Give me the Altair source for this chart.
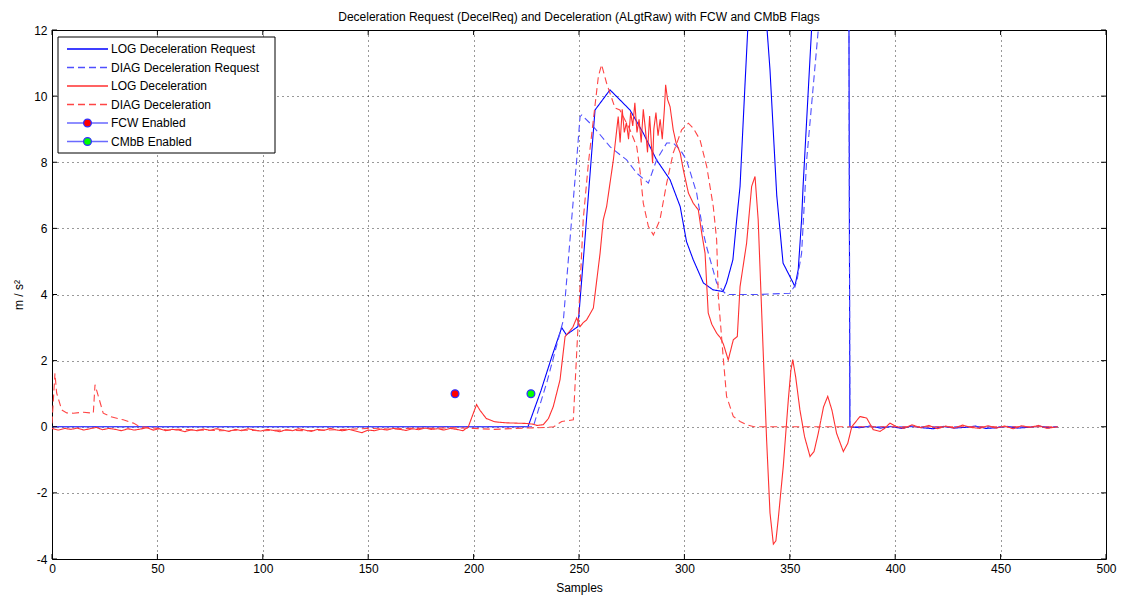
import altair as alt
import pandas as pd

# ---------------- data ----------------
log_req_x = [0, 50, 100, 150, 200, 225.8, 232, 237, 241.8, 244, 249.5, 252.8, 257.6, 264.7, 274.2,
             280.5, 286.8, 293.2, 298, 301, 304.2, 309, 313.6, 318.3, 320, 323, 324.8, 326.4, 328.7,
             330.2, 333, 336, 339, 340.6, 343.8, 346.8, 351.6, 352.4, 354, 355.6, 356.3, 360.4, 365,
             372, 378, 378.5, 383, 388, 393, 398, 403, 408, 413, 418, 423, 428, 433, 438, 443, 448,
             453, 458, 463, 468, 473, 477]
log_req_y = [0, 0, 0, 0, 0, 0, 1.1, 2.1, 3.0, 2.78, 3.03, 5.65, 9.58, 10.19, 9.58,
             8.88, 8.07, 7.47, 6.66, 5.6, 5.05, 4.35, 4.14, 4.09, 4.35, 5.05, 6.26, 7.27, 10.29,
             12.2, 13.5, 13.8, 12.2, 10.8, 7.0, 4.95, 4.35, 4.24, 4.75, 6.26, 7.27, 12.1, 14,
             14.5, 14, 0, -0.03, 0.02, -0.04, 0.01, -0.05, 0.02, -0.03, -0.06, 0.01, -0.04, -0.02,
             0.02, -0.05, -0.03, 0.01, -0.04, -0.02, 0.02, -0.03, 0.0]

diag_req_x = [0, 100, 200, 228.3, 235, 242.6, 246.5, 248.9, 250.5, 251.3, 256.8, 264.7, 272.6,
              277.4, 282.9, 286.8, 291.6, 294.7, 298, 301, 305.8, 309, 310.5, 315.3, 318.5, 320,
              335, 350.1, 353.2, 355.6, 358, 363.5, 370, 378, 378.5, 420, 477]
diag_req_y = [0, 0, 0, 0, 1.4, 3.23, 6.26, 8.07, 9.38, 9.43, 9.08, 8.47, 8.07,
              7.67, 7.37, 8.07, 8.58, 8.58, 8.38, 8.07, 7.07, 5.86, 5.45, 4.35, 4.09, 4.0,
              4.0, 4.04, 4.35, 5.25, 8.07, 12.0, 14, 14, 0, 0, 0]

log_dec_x = [0, 3, 6, 9, 12, 15, 18, 21, 24, 27, 30, 33, 36, 39, 42, 45, 48, 51, 54, 57, 60, 63,
             66, 69, 72, 75, 78, 81, 84, 87, 90, 93, 96, 99, 102, 105, 108, 111, 114, 117, 120, 123,
             126, 129, 132, 135, 138, 141, 144, 147, 150, 153, 156, 159, 162, 165, 168, 171, 174,
             177, 180, 183, 186, 189, 192, 195, 197.5, 201.4, 203, 206, 210, 215, 220, 225, 228,
             230, 233, 235.5, 237.8, 241, 243.4, 245, 247, 248.9, 250.5, 252, 253.6, 256.8, 260,
             261.5, 263.1, 266.3, 268.6, 269.5, 270.5, 271.5, 272.5, 273.5, 274.5, 275.5, 276.5,
             277.5, 278.5, 279.5, 280.5, 281.5, 282.5, 283.5, 284.9, 285.5, 286.5, 287.5, 288.5,
             289.5, 290.5, 291.1, 292, 293.2, 294.7, 296, 298, 299.5, 301.9, 304.2, 306.6, 308.2,
             309.8, 311.3, 313, 315.3, 317, 318.5, 320.8, 323.2, 325.1, 326.4, 329.5, 331.9, 333.5,
             335, 337.4, 339, 340.6, 342.2, 343.4, 344.5, 346.9, 348.2, 349.3, 350.5, 351.4, 352.8,
             354.8, 357, 359.6, 361.5, 363.5, 366, 368, 370, 372.2, 375.4, 377.5, 379.4, 383.3,
             386.5, 389.6, 392.8, 395, 397.5, 400, 404, 408, 412, 416,
             420, 424, 428, 432, 436, 440, 444, 448, 452, 456, 460, 464, 468, 472, 477]
log_dec_y = [-0.05, -0.1, -0.05, -0.08, -0.04, -0.1, -0.06, -0.02, -0.09, -0.05, -0.08, -0.12,
             -0.06, -0.1, -0.07, -0.03, -0.1, -0.06, -0.12, -0.08, -0.1, -0.15, -0.09, -0.12, -0.07,
             -0.11, -0.06, -0.1, -0.14, -0.08, -0.12, -0.06, -0.1, -0.13, -0.08, -0.11, -0.15,
             -0.09, -0.12, -0.06, -0.1, -0.14, -0.08, -0.11, -0.05, -0.1, -0.12, -0.08, -0.13,
             -0.18, -0.1, -0.12, -0.07, -0.1, -0.05, -0.08, -0.11, -0.06, -0.09, -0.04, -0.08,
             -0.06, -0.1, -0.05, -0.08, -0.12, 0.0, 0.67, 0.5, 0.25, 0.15, 0.12, 0.11, 0.1, 0.08,
             0.04, 0.06, 0.25, 0.61, 1.42, 2.73, 2.85, 3.0, 3.29, 3.03, 3.15, 3.23, 3.59, 5.25,
             6.26, 6.66, 8.07, 9.38, 8.6, 9.6, 8.9, 9.2, 8.7, 9.5, 9.1, 9.8,
             8.9, 9.3, 8.6, 9.6, 9.0, 8.3, 9.4, 7.97, 9.0, 9.5, 8.8, 9.3,
             8.7, 9.6, 10.34, 9.9, 9.68, 8.98, 8.6, 8.28, 7.77, 7.07, 6.76, 6.56, 5.86,
             5.25, 3.44, 3.1, 2.83, 2.7, 2.5, 2.02, 2.63, 2.73, 4.24, 5.55, 7.27, 7.57,
             6.26, 2.23, -0.4, -2.6, -3.55, -3.45, -2.8, -1.2, -0.1, 0.82, 1.7, 2.03, 1.5,
             0.51, -0.3, -0.9, -0.75, -0.2, 0.6, 0.92, 0.5, -0.2, -0.75, -0.5, 0.0, 0.31,
             0.26, -0.09, -0.14, -0.05, 0.11, 0.02, -0.05, 0.06, -0.03, 0.04,
             -0.06, 0.02, -0.04, 0.05, -0.02, -0.05, 0.03, -0.04, 0.02, -0.06, 0.03, -0.02,
             0.04, -0.05, 0.0]

diag_dec_x = [0, 1.4, 2.2, 4.6, 7, 10.1, 14.9, 19.6, 20.4, 22, 24.3, 28, 33.8, 38.6, 41.7, 45,
              50, 55, 60, 70, 80, 90, 100, 110, 120, 130, 140, 150, 160, 170, 180, 190, 200, 210,
              220, 230, 235, 238, 241.8, 247.3, 248.9, 250.5, 252, 254.5, 256.8, 259.2, 260.7,
              263.1, 267.1, 269.4, 274.2, 277.4, 278.9, 280.5, 282.9, 285.3, 288.4, 291.6, 294.7,
              298.7, 301.9, 304.2, 307.4, 310.6, 313.7, 315.3, 316.1, 318.5, 320, 323.2, 326.4,
              329.5, 333, 400, 477]
diag_dec_y = [0.1, 1.62, 1.02, 0.51, 0.42, 0.41, 0.44, 0.41, 1.27, 0.92, 0.41, 0.3, 0.21, 0.11,
              0.0, -0.02, -0.05, -0.1, -0.08, -0.1, -0.12, -0.1, -0.12, -0.1, -0.12, -0.1, -0.08,
              -0.05, -0.07, -0.05, -0.05, -0.03, -0.05, -0.08, -0.05, -0.03, -0.02, 0.0, 0.16,
              0.21, 2.23, 4.24, 6.26, 8.0, 9.28, 10.6, 10.95, 10.39, 9.64, 9.58, 8.98, 8.47, 7.77,
              6.76, 6.06, 5.8, 6.26, 7.37, 8.28, 8.98, 9.18, 9.03, 8.68, 7.87, 6.66, 5.65, 3.94,
              2.03, 0.92, 0.31, 0.16, 0.06, 0.0, 0.0, 0.0]

fcw_x = [191.2]
fcw_y = [1]
cmbb_x = [227.2]
cmbb_y = [1]

x_ticks = [0, 50, 100, 150, 200, 250, 300, 350, 400, 450, 500]
y_ticks = [-4, -2, 0, 2, 4, 6, 8, 10, 12]

series_names = ["LOG Deceleration Request", "DIAG Deceleration Request",
                "LOG Deceleration", "DIAG Deceleration"]
series_colors = ["#0000ff", "#4f4fff", "#ff3030", "#ff4545"]
series_dash = [[1, 0], [7, 4], [1, 0], [7, 4]]

# ---------------- build tables ----------------
frames = []
for name, xs, ys in zip(series_names,
                        [log_req_x, diag_req_x, log_dec_x, diag_dec_x],
                        [log_req_y, diag_req_y, log_dec_y, diag_dec_y]):
    frames.append(pd.DataFrame({"x": xs, "y": ys, "series": name, "idx": range(len(xs))}))
df = pd.concat(frames, ignore_index=True)

W, H = 1054, 529
FONT = "Liberation Sans"

xscale = alt.Scale(domain=[0, 500], nice=False, zero=False)
yscale = alt.Scale(domain=[-4, 12], nice=False, zero=False)

common_axis = dict(grid=True, gridDash=[1, 4], gridColor="#000000", gridOpacity=0.8,
                   domain=False, ticks=False, labelFontSize=12, titleFontSize=12,
                   labelFont=FONT, titleFont=FONT, labelColor="#000", titleColor="#000",
                   titleFontWeight="normal", labelFlush=False, labelOverlap=False,
                   labelExpr="'' + datum.value")
xaxis = alt.Axis(values=x_ticks, labelPadding=4, titlePadding=8, title="Samples", **common_axis)
yaxis = alt.Axis(values=y_ticks, labelPadding=5, titlePadding=8, title="m / s²", **common_axis)

lines = alt.Chart(df).mark_line(clip=True, strokeWidth=1.1).encode(
    x=alt.X("x:Q", scale=xscale, axis=xaxis),
    y=alt.Y("y:Q", scale=yscale, axis=yaxis),
    color=alt.Color("series:N", scale=alt.Scale(domain=series_names, range=series_colors), legend=None),
    strokeDash=alt.StrokeDash("series:N", scale=alt.Scale(domain=series_names, range=series_dash), legend=None),
    order="idx:Q",
)

pts_df = pd.DataFrame({"x": fcw_x + cmbb_x, "y": fcw_y + cmbb_y, "flag": ["FCW Enabled", "CMbB Enabled"]})
points = alt.Chart(pts_df).mark_point(filled=True, size=60, stroke="#3030ff", strokeWidth=1.3, opacity=1).encode(
    x=alt.X("x:Q", scale=xscale),
    y=alt.Y("y:Q", scale=yscale),
    fill=alt.Fill("flag:N", scale=alt.Scale(domain=["FCW Enabled", "CMbB Enabled"], range=["#ff0000", "#00ff00"]), legend=None),
)

# inward ticks (MATLAB style)
xt = pd.DataFrame({"t": x_ticks})
yt = pd.DataFrame({"t": y_ticks})
xt_bot = alt.Chart(xt).mark_rule(color="#000", strokeWidth=1).encode(
    x=alt.X("t:Q", scale=xscale), y=alt.value(H), y2=alt.value(H - 5))
xt_top = alt.Chart(xt).mark_rule(color="#000", strokeWidth=1).encode(
    x=alt.X("t:Q", scale=xscale), y=alt.value(0), y2=alt.value(5))
yt_left = alt.Chart(yt).mark_rule(color="#000", strokeWidth=1).encode(
    y=alt.Y("t:Q", scale=yscale), x=alt.value(0), x2=alt.value(5))
yt_right = alt.Chart(yt).mark_rule(color="#000", strokeWidth=1).encode(
    y=alt.Y("t:Q", scale=yscale), x=alt.value(W), x2=alt.value(W - 5))

# ---------------- manual legend ----------------
one = pd.DataFrame({"a": [0]})
legend_layers = [
    alt.Chart(one).mark_rect(fill="white", stroke="#000", strokeWidth=1).encode(
        x=alt.value(6), x2=alt.value(223), y=alt.value(7), y2=alt.value(123))
]
row_y = [19, 37.5, 56, 74.5, 93, 111.5]
legend_labels = series_names + ["FCW Enabled", "CMbB Enabled"]
legend_colors = series_colors + ["#6a6aff", "#6a6aff"]
legend_dash = series_dash + [[1, 0], [1, 0]]
for i, (lab, col, dash) in enumerate(zip(legend_labels, legend_colors, legend_dash)):
    ry = row_y[i]
    legend_layers.append(
        alt.Chart(one).mark_rule(color=col, strokeWidth=1.3, strokeDash=dash).encode(
            x=alt.value(15), x2=alt.value(56), y=alt.value(ry)))
    legend_layers.append(
        alt.Chart(one).mark_text(align="left", baseline="middle", fontSize=12, font=FONT, color="#000").encode(
            x=alt.value(59), y=alt.value(ry), text=alt.value(lab)))
legend_layers.append(
    alt.Chart(one).mark_point(filled=True, size=60, fill="#ff0000", stroke="#3030ff", strokeWidth=1.3, opacity=1).encode(
        x=alt.value(35.5), y=alt.value(row_y[4])))
legend_layers.append(
    alt.Chart(one).mark_point(filled=True, size=60, fill="#00ff00", stroke="#3030ff", strokeWidth=1.3, opacity=1).encode(
        x=alt.value(35.5), y=alt.value(row_y[5])))

chart = alt.layer(lines, points, xt_bot, xt_top, yt_left, yt_right, *legend_layers).properties(
    width=W, height=H,
    autosize=alt.AutoSizeParams(type="none"),
    padding={"left": 52, "top": 30, "right": 15, "bottom": 38},
    title=alt.Title("Deceleration Request (DecelReq) and Deceleration (ALgtRaw) with FCW and CMbB Flags",
                    fontSize=12, fontWeight="normal", font=FONT, color="#000", anchor="middle", offset=0),
    background="white",
).configure_view(stroke="#000", strokeWidth=1)

chart.save("out.html", embed_options={"renderer": "svg", "actions": False})
